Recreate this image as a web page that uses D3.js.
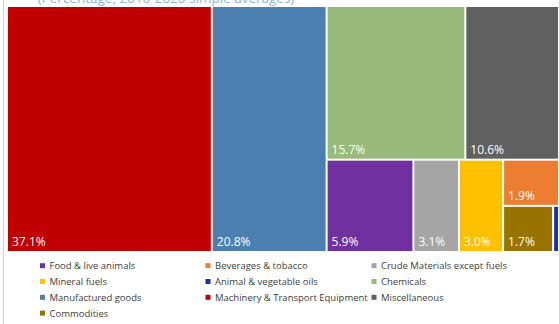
<!DOCTYPE html>
<html>
<head>
<meta charset="utf-8">
<script src="https://cdn.jsdelivr.net/npm/d3@7"></script>
<style>
  body { margin: 0; background: #fff; }
  svg { display: block; font-family: "Open Sans", "Noto Sans", sans-serif; }
</style>
</head>
<body>
<svg id="chart" width="559" height="324"></svg>
<script>
// values (percent of total)
var categories = ["Machinery & Transport Equipment", "Manufactured goods", "Chemicals", "Miscellaneous",
                  "Food & live animals", "Crude Materials except fuels", "Mineral fuels",
                  "Beverages & tobacco", "Commodities", "Animal & vegetable oils"];
var shares = [37.1, 20.8, 15.7, 10.6, 5.9, 3.1, 3.0, 1.9, 1.7, 0.2];
var colors = ["#c00000", "#4a7faf", "#98bb7c", "#606060",
              "#7030a0", "#a5a5a5", "#ffc000",
              "#ed7d31", "#997300", "#1030c0"];
// nesting used to reproduce the excel tiling (slice / dice alternates per depth)
var tilePath = [[], [], ["rest", "top"], ["rest", "top"],
                ["rest", "bottom"], ["rest", "bottom"], ["rest", "bottom"],
                ["rest", "bottom", "corner"], ["rest", "bottom", "corner", "low"], ["rest", "bottom", "corner", "low"]];
// legend order (row by row, 3 columns)
var legendItems = ["Food & live animals", "Beverages & tobacco", "Crude Materials except fuels",
                   "Mineral fuels", "Animal & vegetable oils", "Chemicals",
                   "Manufactured goods", "Machinery & Transport Equipment", "Miscellaneous",
                   "Commodities"];
var titleText = "(Percentage, 2016-2020 simple averages)";

var svg = d3.select("#chart");
var colorOf = d3.scaleOrdinal().domain(categories).range(colors);

// build the nested tree
var root = { name: "root", children: [] };
categories.forEach(function (c, i) {
  var node = root;
  tilePath[i].forEach(function (g) {
    var next = node.children.find(function (k) { return k.name === g; });
    if (!next) { next = { name: g, children: [] }; node.children.push(next); }
    node = next;
  });
  node.children.push({ name: c, value: shares[i] });
});

var h = d3.hierarchy(root).sum(function (d) { return d.value || 0; });

d3.treemap()
  .tile(d3.treemapSliceDice)
  .size([550, 244])
  .paddingInner(2)
  .round(false)(h);

// frame line on the left
svg.append("line")
  .attr("x1", 3.5).attr("x2", 3.5)
  .attr("y1", 0).attr("y2", 324)
  .attr("stroke", "#cfcfcf");

// title, mostly cropped off the top like in the source
svg.append("text")
  .attr("x", 166).attr("y", 3)
  .attr("text-anchor", "middle")
  .style("font-size", "13.5px")
  .style("fill", "#8db3de")
  .text(titleText);

var g = svg.append("g").attr("transform", "translate(8,7)");

var leaf = g.selectAll("g.leaf")
  .data(h.leaves())
  .enter()
  .append("g")
  .attr("class", "leaf");

leaf.append("rect")
  .attr("x", function (d) { return d.x0; })
  .attr("y", function (d) { return d.y0; })
  .attr("width", function (d) { return Math.max(0, d.x1 - d.x0); })
  .attr("height", function (d) { return Math.max(0, d.y1 - d.y0); })
  .attr("fill", function (d) { return colorOf(d.data.name); });

leaf.filter(function (d) { return d.x1 - d.x0 > 30; })
  .append("text")
  .attr("x", function (d) { return d.x0 + 4; })
  .attr("y", function (d) { return d.y1 - 5; })
  .style("font-size", "12px")
  .style("fill", "#fff")
  .text(function (d) { return d3.format(".1f")(d.data.value) + "%"; });

// legend
var colX = [42.5, 208, 374];
var legend = svg.selectAll("g.legend")
  .data(legendItems)
  .enter()
  .append("g")
  .attr("class", "legend")
  .attr("transform", function (d, i) {
    return "translate(" + colX[i % 3] + "," + (265.7 + Math.floor(i / 3) * 15.8) + ")";
  });

legend.append("rect")
  .attr("x", -2.5).attr("y", -2.5)
  .attr("width", 5).attr("height", 5)
  .attr("fill", function (d) { return colorOf(d); });

legend.append("text")
  .attr("x", 7).attr("y", 3.5)
  .style("font-size", "9.5px")
  .style("fill", "#404040")
  .text(function (d) { return d; });
</script>
</body>
</html>
